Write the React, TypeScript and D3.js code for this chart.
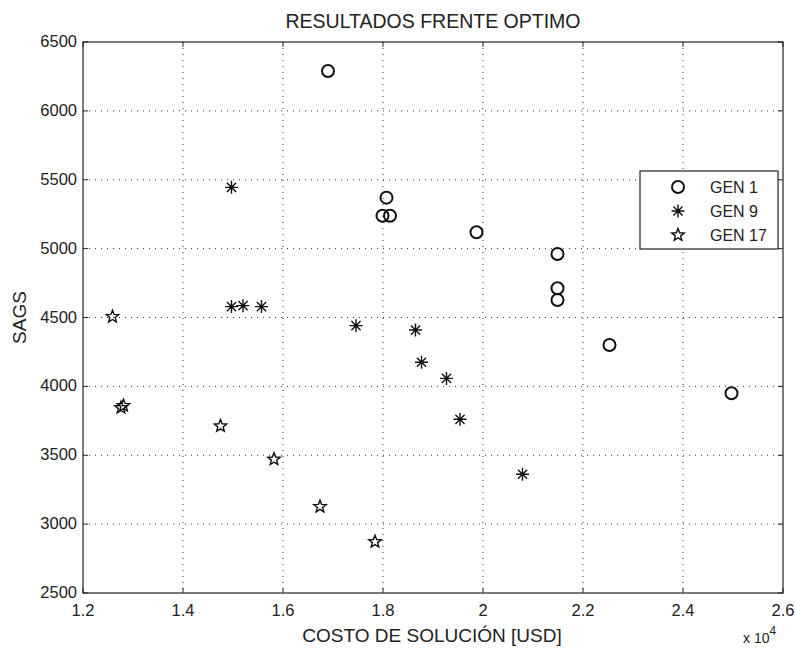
import React from "react";
import * as d3 from "d3";

// Cost (×10^4 USD) and SAGS values per generation
const gen1Cost = [1.69, 1.807, 1.799, 1.814, 1.987, 2.149, 2.149, 2.149, 2.253, 2.497];
const gen1Sags = [6290, 5370, 5239, 5239, 5119, 4961, 4712, 4627, 4300, 3950];

const gen9Cost = [1.497, 1.497, 1.52, 1.557, 1.746, 1.865, 1.877, 1.927, 1.954, 2.079];
const gen9Sags = [5445, 4579, 4586, 4579, 4441, 4409, 4175, 4058, 3761, 3362];

const gen17Cost = [1.259, 1.276, 1.281, 1.475, 1.582, 1.674, 1.784];
const gen17Sags = [4506, 3845, 3860, 3712, 3471, 3127, 2872];

const xTicks = [1.2, 1.4, 1.6, 1.8, 2, 2.2, 2.4, 2.6];
const yTicks = [2500, 3000, 3500, 4000, 4500, 5000, 5500, 6000, 6500];

const legendLabels = ["GEN 1", "GEN 9", "GEN 17"];

const W = 796;
const H = 648;
const plot = { left: 83, right: 783, top: 42, bottom: 593 };
const FONT = "Arial, 'Liberation Sans', Helvetica, sans-serif";

const x = d3.scaleLinear().domain([1.2, 2.6]).range([plot.left, plot.right]);
const y = d3.scaleLinear().domain([2500, 6500]).range([plot.bottom, plot.top]);

function Ring({ cx, cy }: { cx: number; cy: number }) {
  return <circle cx={cx} cy={cy} r={6} fill="none" stroke="#111" strokeWidth={2} />;
}

function Asterisk({ cx, cy }: { cx: number; cy: number }) {
  const r = 6.5;
  const d = r * Math.SQRT1_2;
  const path = `M${cx - r},${cy}L${cx + r},${cy}M${cx},${cy - r}L${cx},${cy + r}M${cx - d},${cy - d}L${cx + d},${cy + d}M${cx - d},${cy + d}L${cx + d},${cy - d}`;
  return (
    <g>
      <path d={path} stroke="#111" strokeWidth={1.4} fill="none" />
      <circle cx={cx} cy={cy} r={1.6} fill="#111" />
    </g>
  );
}

function Star({ cx, cy }: { cx: number; cy: number }) {
  const outer = 6.5;
  const inner = 2.8;
  const pts: [number, number][] = [];
  for (let i = 0; i < 10; i++) {
    const a = -Math.PI / 2 + (i * Math.PI) / 5;
    const r = i % 2 === 0 ? outer : inner;
    pts.push([cx + r * Math.cos(a), cy + r * Math.sin(a)]);
  }
  const line = d3.line()(pts) + "Z";
  return <path d={line} stroke="#111" strokeWidth={1.4} fill="none" />;
}

export default function App() {
  const tickLen = 5;
  return (
    <svg
      width={W}
      height={H}
      style={{ position: "absolute", left: 0, top: 0, background: "#fff" }}
      fontFamily={FONT}
    >
      <rect x={0} y={0} width={W} height={H} fill="#fff" />

      {/* grid */}
      <g stroke="#333" strokeWidth={1} strokeDasharray="1,5">
        {xTicks.slice(1, -1).map((t) => (
          <line key={"gx" + t} x1={x(t)} x2={x(t)} y1={plot.top} y2={plot.bottom} />
        ))}
        {yTicks.slice(1, -1).map((t) => (
          <line key={"gy" + t} x1={plot.left} x2={plot.right} y1={y(t)} y2={y(t)} />
        ))}
      </g>

      {/* ticks on all four sides */}
      <g stroke="#222" strokeWidth={1}>
        {xTicks.map((t) => (
          <g key={"tx" + t}>
            <line x1={x(t)} x2={x(t)} y1={plot.bottom} y2={plot.bottom - tickLen} />
            <line x1={x(t)} x2={x(t)} y1={plot.top} y2={plot.top + tickLen} />
          </g>
        ))}
        {yTicks.map((t) => (
          <g key={"ty" + t}>
            <line x1={plot.left} x2={plot.left + tickLen} y1={y(t)} y2={y(t)} />
            <line x1={plot.right} x2={plot.right - tickLen} y1={y(t)} y2={y(t)} />
          </g>
        ))}
      </g>

      {/* axes box */}
      <rect
        x={plot.left}
        y={plot.top}
        width={plot.right - plot.left}
        height={plot.bottom - plot.top}
        fill="none"
        stroke="#222"
        strokeWidth={1.2}
      />

      {/* tick labels */}
      <g fontSize={16.5} fill="#222">
        {xTicks.map((t) => (
          <text key={"lx" + t} x={x(t)} y={plot.bottom + 23} textAnchor="middle">
            {String(t)}
          </text>
        ))}
        {yTicks.map((t) => (
          <text key={"ly" + t} x={plot.left - 6} y={y(t) + 5} textAnchor="end">
            {String(t)}
          </text>
        ))}
      </g>

      {/* exponent */}
      <text x={743} y={643} fontSize={14} fill="#222">
        x 10
        <tspan dy={-8} fontSize={12}>4</tspan>
      </text>

      {/* titles */}
      <text x={433} y={28} textAnchor="middle" fontSize={19.5} fill="#222">
        RESULTADOS FRENTE OPTIMO
      </text>
      <text x={432} y={642} textAnchor="middle" fontSize={19} fill="#222">
        COSTO DE SOLUCIÓN [USD]
      </text>
      <text
        transform={`translate(26, ${(plot.top + plot.bottom) / 2}) rotate(-90)`}
        textAnchor="middle"
        fontSize={19}
        fill="#222"
      >
        SAGS
      </text>

      {/* data */}
      <g>
        {gen1Cost.map((c, i) => (
          <Ring key={"g1" + i} cx={x(c)} cy={y(gen1Sags[i])} />
        ))}
        {gen9Cost.map((c, i) => (
          <Asterisk key={"g9" + i} cx={x(c)} cy={y(gen9Sags[i])} />
        ))}
        {gen17Cost.map((c, i) => (
          <Star key={"g17" + i} cx={x(c)} cy={y(gen17Sags[i])} />
        ))}
      </g>

      {/* legend */}
      <g>
        <rect x={640} y={171} width={138} height={78} fill="#fff" stroke="#222" strokeWidth={1.2} />
        {legendLabels.map((lab, i) => {
          const ly = 187 + i * 24;
          return (
            <g key={lab}>
              {i === 0 && <Ring cx={678} cy={ly} />}
              {i === 1 && <Asterisk cx={678} cy={ly} />}
              {i === 2 && <Star cx={678} cy={ly} />}
              <text x={710} y={ly + 6} fontSize={16} fill="#222">
                {lab}
              </text>
            </g>
          );
        })}
      </g>
    </svg>
  );
}
